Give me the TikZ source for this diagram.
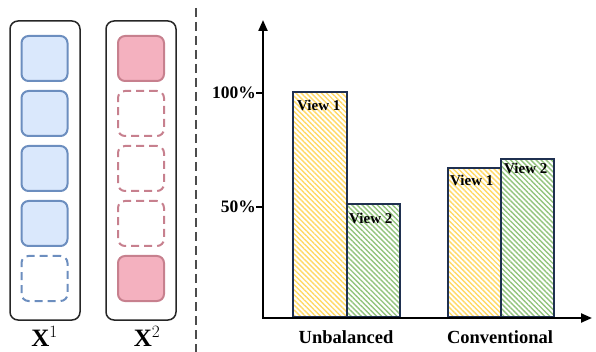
\documentclass[tikz,border=0pt]{standalone}
\usepackage{fontspec}
\setmainfont{Liberation Serif}
\usetikzlibrary{arrows.meta, positioning, patterns.meta}
\definecolor{cellblue}{HTML}{DAE8FC}
\definecolor{cellbluedraw}{HTML}{6C8EBF}
\definecolor{cellpink}{HTML}{F4B1BF}
\definecolor{cellpinkdraw}{HTML}{C7808E}
\definecolor{hatchyellow}{HTML}{FFD966}
\definecolor{hatchgreen}{HTML}{93C47D}
\definecolor{barnavy}{HTML}{1F3050}

\begin{document}
\begin{tikzpicture}[x=1pt, y=-1pt,
          holder/.style={
              draw=black!85,
              rounded corners=8pt,
              line width=1.5pt,
              minimum width=70pt,
              minimum height=299pt
            },
          bluecell/.style={
              draw=cellbluedraw,
              fill=cellblue,
              rounded corners=7pt,
              line width=2pt,
              minimum width=46pt,
              minimum height=45pt
            },
          bluegap/.style={bluecell, fill=none, dash pattern=on 8pt off 5pt},
          pinkcell/.style={bluecell, draw=cellpinkdraw, fill=cellpink},
          pinkgap/.style={pinkcell, fill=none, dash pattern=on 8pt off 5pt},
          bar/.style={
              draw=barnavy,
              line width=2pt,
              anchor=south west,
              inner sep=0pt
            },
          view1/.style={bar, pattern={Lines[angle=-45, distance=3.6pt, line width=1.4pt]}, pattern color=hatchyellow},
          view2/.style={bar, pattern={Lines[angle=-45, distance=3.6pt, line width=1.4pt]}, pattern color=hatchgreen},
          barlabel/.style={anchor=north west, inner sep=0pt, font=\fontsize{15}{17}\selectfont\bfseries},
          ticklabel/.style={anchor=east, inner sep=0pt, font=\fontsize{17.5}{19}\selectfont\bfseries},
          grouplabel/.style={font=\fontsize{18.5}{20}\selectfont\bfseries},
          axis/.style={line width=2.2pt, black, {Triangle[length=11pt, width=9pt]}-{Triangle[length=11pt, width=9pt]}},
          tick/.style={line width=2.2pt, black}
        ]
        \useasboundingbox (0,0) rectangle (596,352);

        \node[holder] (left) at (45,170.5) {};
        \node[holder] (right) at (141,170.5) {};

        \foreach \i in {0,...,3}
          \node[bluecell] (b\i) at (44.5,58.5+55*\i) {};
        \node[bluegap] (b4) at (44.5,278.5) {};

        \node[pinkcell] (p0) at (141,58.5) {};
        \foreach \i in {1,2,3}
          \node[pinkgap] (p\i) at (141,58.5+55*\i) {};
        \node[pinkcell] (p4) at (141,278.5) {};

        \node[font=\fontsize{25}{27}\selectfont] (x1) at (44.5,336) {$\mathbf{X}^{1}$};
        \node[font=\fontsize{25}{27}\selectfont] (x2) at (147,336) {$\mathbf{X}^{2}$};

        \coordinate (septop) at (196,8);
        \coordinate (sepbot) at (196,352);
        \draw[black!70, line width=2.2pt, dash pattern=on 9pt off 5pt] (septop) -- (sepbot);

        \coordinate (origin) at (263,318);
        \coordinate (ytip) at (263,20);
        \coordinate (xtip) at (592,318);

        \node[view1, minimum width=54pt, minimum height=225pt] (ub1) at (292,318) {};
        \node[view2, minimum width=53pt, minimum height=113pt] (ub2) at (346,318) {};
        \node[view1, minimum width=53pt, minimum height=149pt] (cv1) at (447,318) {};
        \node[view2, minimum width=53pt, minimum height=158pt] (cv2) at (500,318) {};

        \node[barlabel] at ([xshift=5pt, yshift=-8pt]ub1.north west) {View 1};
        \node[barlabel] at ([xshift=3pt, yshift=-10pt]ub2.north west) {View 2};
        \node[barlabel] at ([xshift=3pt, yshift=-8pt]cv1.north west) {View 1};
        \node[barlabel] at ([xshift=4pt, yshift=-5pt]cv2.north west) {View 2};

        \draw[axis] (ytip) -- (origin) -- (xtip);

        \coordinate (t100) at (263,93);
        \coordinate (t50) at (263,207);
        \node[ticklabel] (l100) at (256,93) {100\%};
        \node[ticklabel] (l50) at (256,207) {50\%};
        \draw[tick] (l100.east) -- (t100);
        \draw[tick] (l50.east) -- (t50);

        \node[grouplabel] (unb) at (346,337) {Unbalanced};
        \node[grouplabel] (conv) at (500,337) {Conventional};
      \end{tikzpicture}
\end{document}
